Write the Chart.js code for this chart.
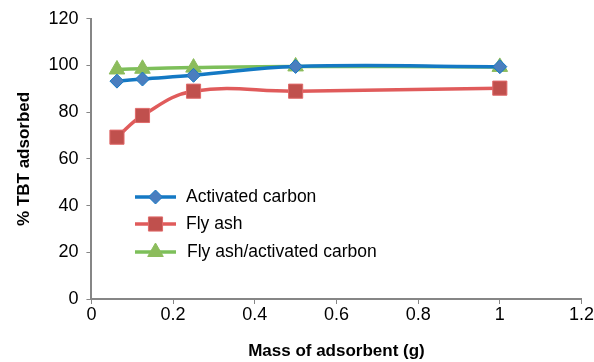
<!DOCTYPE html>
<html>
<head>
<meta charset="utf-8">
<script src="https://cdn.jsdelivr.net/npm/chart.js@4"></script>
<style>
  body { margin: 0; background: #fff; }
  #wrap { width: 594px; height: 362px; }
</style>
</head>
<body>
<div id="wrap"><canvas id="grafico"></canvas></div>
<script>
var massas = [0.0625, 0.125, 0.25, 0.5, 1];
var carvaoAtivado = [93.3, 94.2, 95.8, 99.6, 99.5];
var cinzas = [69.3, 78.6, 89, 89, 90.3];
var cinzasCarvao = [98.3, 98.6, 99.1, 99.6, 99.4];
var nomes = ["Activated carbon", "Fly ash", "Fly ash/activated carbon"];

var cinza = "#868686";
var fonte = "'Liberation Sans', Arial, sans-serif";

function pontos(ys) {
  return massas.map(function (x, i) { return { x: x, y: ys[i] }; });
}

// legenda desenhada dentro da area do grafico
var legendaInterna = {
  id: "legendaInterna",
  afterDatasetsDraw: function (chart) {
    var ctx = chart.ctx;
    var linhas = [197, 224, 252];
    chart.data.datasets.forEach(function (ds, i) {
      var y = linhas[i];
      ctx.save();
      ctx.strokeStyle = ds.borderColor;
      ctx.lineWidth = 3.5;
      ctx.beginPath();
      ctx.moveTo(135, y);
      ctx.lineTo(176, y);
      ctx.stroke();
      ctx.fillStyle = ds.pointBackgroundColor;
      ctx.strokeStyle = ds.pointBorderColor;
      ctx.lineWidth = 1;
      Chart.helpers.drawPoint(ctx, {
        pointStyle: ds.pointStyle,
        radius: ds.pointRadius,
        borderWidth: 1
      }, 155.5, y);
      ctx.fillStyle = "#000";
      ctx.font = "17.5px " + fonte;
      ctx.textBaseline = "middle";
      ctx.fillText(ds.label, i === 2 ? 187 : 186, y);
      ctx.restore();
    });
  }
};

new Chart("grafico", {
  type: "line",
  data: {
    datasets: [
      {
        label: nomes[0], data: pontos(carvaoAtivado),
        borderColor: "#1479c4", borderWidth: 3.5,
        pointStyle: "rectRot", pointRadius: 7,
        pointBackgroundColor: "#4a7ebf", pointBorderColor: "#1479c4", pointBorderWidth: 1
      },
      {
        label: nomes[1], data: pontos(cinzas),
        borderColor: "#e05b5b", borderWidth: 3.5,
        pointStyle: "rect", pointRadius: 10,
        pointBackgroundColor: "#c0504d", pointBorderColor: "#e06a6a", pointBorderWidth: 1
      },
      {
        label: nomes[2], data: pontos(cinzasCarvao),
        borderColor: "#7dbf5a", borderWidth: 3.5,
        pointStyle: "triangle", pointRadius: 9,
        pointBackgroundColor: "#8cbc5c", pointBorderColor: "#8cbc5c", pointBorderWidth: 1
      }
    ]
  },
  options: {
    responsive: true,
    maintainAspectRatio: false,
    animation: false,
    layout: { padding: { top: 9, right: 5, left: 14, bottom: 0 } },
    plugins: {
      legend: { display: false },
      tooltip: { enabled: false }
    },
    elements: { line: { tension: 0.4 } },
    scales: {
      x: {
        type: "linear", min: 0, max: 1.2,
        ticks: { stepSize: 0.2, color: "#000", font: { size: 18, family: fonte }, padding: 0,
          callback: function (v) { return Math.round(v * 10) / 10; } },
        grid: { drawOnChartArea: false, drawTicks: true, tickLength: 5, color: cinza },
        border: { color: cinza, width: 2 },
        title: { display: true, text: "Mass of adsorbent (g)", color: "#000",
          font: { size: 17, weight: "bold", family: fonte }, padding: { top: 16, bottom: 0 } }
      },
      y: {
        min: 0, max: 120,
        ticks: { stepSize: 20, color: "#000", font: { size: 18, family: fonte }, padding: 8 },
        grid: { drawOnChartArea: false, drawTicks: true, tickLength: 5, color: cinza },
        border: { color: cinza, width: 2 },
        title: { display: true, text: "% TBT adsorbed", color: "#000",
          font: { size: 17, weight: "bold", family: fonte }, padding: { top: 0, bottom: 6 } }
      }
    }
  },
  plugins: [legendaInterna]
});
</script>
</body>
</html>
